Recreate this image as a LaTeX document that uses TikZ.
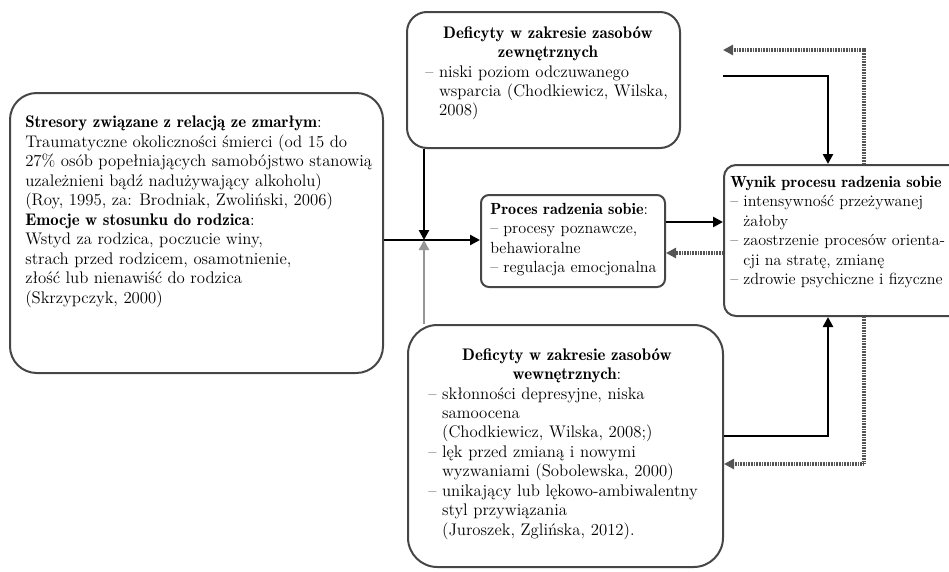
\documentclass[tikz,border=0pt]{standalone}
\usepackage{amsmath}
\usepackage{tikz}
\usetikzlibrary{arrows.meta}
\usetikzlibrary{fit}
\renewcommand{\bfdefault}{b}

\begin{document}
\begin{tikzpicture}[x=0.75pt,y=0.75pt,yscale=-1,xscale=1,
  card/.style={draw={rgb, 255:red, 70; green, 70; blue, 70},line width=1.5pt,inner sep=0pt},
  txt/.style={anchor=north west,inner sep=0.75pt,align=left,font=\fontsize{12.6}{14.6}\selectfont},
  small/.style={font=\fontsize{12.1}{14.6}\selectfont},
  fwd/.style={line width=2.2pt,-{Triangle[length=7.5pt,width=7.5pt]}},
  back/.style={line width=2.6pt,draw={rgb, 255:red, 85; green, 85; blue, 85},dash pattern=on 0.7pt off 0.5pt,-{Triangle[length=7.5pt,width=7.5pt]}}]
%set diagram to the size of the reference
\useasboundingbox (0,0) rectangle (949,571);

%Shape: Rounded Rect (stressors)
\node [card,rounded corners=20pt,fit={(10,93) (383,373)}] (stres) {};
%Shape: Rounded Rect (external resources)
\node [card,rounded corners=15pt,fit={(407,12) (680,148)}] (zewn) {};
%Shape: Rounded Rect (coping)
\node [card,rounded corners=6pt,fit={(481,195) (665,287)}] (proces) {};
%Shape: Rounded Rect (outcome)
\node [card,rounded corners=9pt,fit={(724,165) (964,316)}] (wynik) {};
%Shape: Rounded Rect (internal resources)
\node [card,rounded corners=22pt,fit={(408,325) (723,567)}] (wewn) {};

%Points where the connectors turn or end
\coordinate (jn) at (424,240);
\coordinate (fwdy) at (0,222);
\coordinate (backy) at (0,253);
\coordinate (sx) at (828,0);
\coordinate (dx) at (864,0);
\coordinate (topback) at (723,50);
\coordinate (topin) at (723,76);
\coordinate (botin) at (0,436);
\coordinate (botback) at (0,464);

%Straight Lines
\draw [fwd] (stres.east |- jn) -- (proces.west |- jn);
\draw [fwd] (zewn.south -| jn) -- (jn);
\draw [fwd,draw={rgb, 255:red, 150; green, 150; blue, 150}] (wewn.north -| jn) -- (jn);
\draw [fwd] (proces.east |- fwdy) -- (wynik.west |- fwdy);
\draw [back] (wynik.west |- backy) -- (proces.east |- backy);
%Loops to the resource boxes
\draw [back] (wynik.north -| dx) |- (topback);
\draw [fwd,line width=1.9pt] (topin) -| (wynik.north -| sx);
\draw [fwd,line width=1.9pt] (wewn.east |- botin) -| (wynik.south -| sx);
\draw [back] (wynik.south -| dx) |- (wewn.east |- botback);

% Text Node
\node [txt] (stresText) at (24,115) {\textbf{Stresory związane z relacją ze zmarłym}:\\
Traumatyczne okoliczności śmierci (od 15 do\\
27\% osób popełniających samobójstwo stanowią\\
uzależnieni bądź nadużywający alkoholu)\\
(Roy, 1995, za: Brodniak, Zwoliński, 2006)\\
\textbf{Emocje w stosunku do rodzica}:\\
Wstyd za rodzica, poczucie winy,\\
strach przed rodzicem, osamotnienie,\\
złość lub nienawiść do rodzica\\
(Skrzypczyk, 2000)};
% Text Node
\node [txt,text width=184pt] (zewnText) at (424,25) {{\centering\textbf{Deficyty w zakresie zasobów}\\
\textbf{zewnętrznych}\par}
\noindent– niski poziom odczuwanego\\
\hphantom{– }wsparcia (Chodkiewicz, Wilska,\\
\hphantom{– }2008)};
% Text Node
\node [txt,small] (procesText) at (489,202) {\textbf{Proces radzenia sobie}:\\
– procesy poznawcze,\\
behawioralne\\
– regulacja emocjonalna};
% Text Node
\node [txt,small] (wynikText) at (729,175) {\textbf{Wynik procesu radzenia sobie}\\
– intensywność przeżywanej\\
\hphantom{– }żałoby\\
– zaostrzenie procesów orienta-\\
\hphantom{– }cji na stratę, zmianę\\
– zdrowie psychiczne i fizyczne};
% Text Node
\node [txt,text width=208pt] (wewnText) at (427,347) {{\centering\textbf{Deficyty w zakresie zasobów}\\
\textbf{wewnętrznych}:\par}
\noindent– skłonności depresyjne, niska\\
\hphantom{– }samoocena\\
\hphantom{– }(Chodkiewicz, Wilska, 2008;)\\
– lęk przed zmianą i nowymi\\
\hphantom{– }wyzwaniami (Sobolewska, 2000)\\
– unikający lub lękowo-ambiwalentny\\
\hphantom{– }styl przywiązania\\
\hphantom{– }(Juroszek, Zglińska, 2012).};

\end{tikzpicture}
\end{document}
